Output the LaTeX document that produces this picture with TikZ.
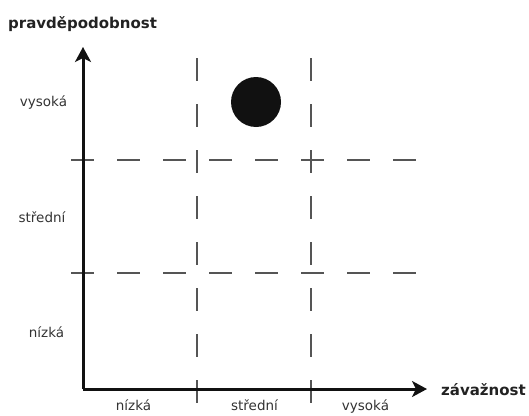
\documentclass[tikz,border=0pt]{standalone}
\usepackage{fontspec}
\setmainfont{DejaVu Sans}
\usetikzlibrary{arrows.meta}
\definecolor{axisline}{HTML}{111111}
\definecolor{gridgray}{HTML}{555555}
\definecolor{labeltext}{HTML}{333333}
\definecolor{titletext}{HTML}{222222}
\definecolor{riskdot}{HTML}{111111}
\tikzset{
  axis/.style={-{Stealth[length=15pt, width=16pt, inset=4pt]}, line width=3pt, draw=axisline},
  gridline/.style={draw=gridgray, line width=1.3pt, dash pattern=on 23pt off 23pt},
  level/.style={font=\fontsize{13.5}{15}\selectfont, text=labeltext, inner sep=0pt},
  axis-title/.style={font=\fontsize{15}{17}\selectfont\bfseries, text=titletext, inner sep=0pt}
}
\begin{document}
\begin{tikzpicture}[x=1pt, y=-1pt]

\useasboundingbox (0,0) rectangle (529,415);

\coordinate (origin) at (83,389);
\coordinate (ytip) at (83,47);
\coordinate (xtip) at (427,389);

% grid of dashed lines
\coordinate (h1a) at (71,160);
\coordinate (h1b) at (420,160);
\coordinate (h2a) at (71,273);
\coordinate (h2b) at (420,273);
\coordinate (v1a) at (197,58);
\coordinate (v1b) at (197,404);
\coordinate (v2a) at (311,58);
\coordinate (v2b) at (311,404);
\draw[gridline] (h1a) -- (h1b);
\draw[gridline] (h2a) -- (h2b);
\draw[gridline] (v1a) -- (v1b);
\draw[gridline] (v2a) -- (v2b);

% axes
\draw[axis] (origin) -- (ytip);
\draw[axis] (origin) -- (xtip);

\node[axis-title, anchor=west] (ytitle) at (8,24) {pravděpodobnost};
\node[axis-title, anchor=west] (xtitle) at (441,390) {závažnost};

\node[level] (yhigh) at (43.5,103) {vysoká};
\node[level] (ymid) at (42,217) {střední};
\node[level] (ylow) at (46.5,332) {nízká};

\node[level, anchor=base] (xlow) at (133.5,410) {nízká};
\node[level, anchor=base] (xmid) at (254.5,410) {střední};
\node[level, anchor=base] (xhigh) at (365.5,410) {vysoká};

% the risk
\node[circle, fill=riskdot, minimum size=50pt, inner sep=0pt] (risk) at (256,102) {};

\end{tikzpicture}
\end{document}
